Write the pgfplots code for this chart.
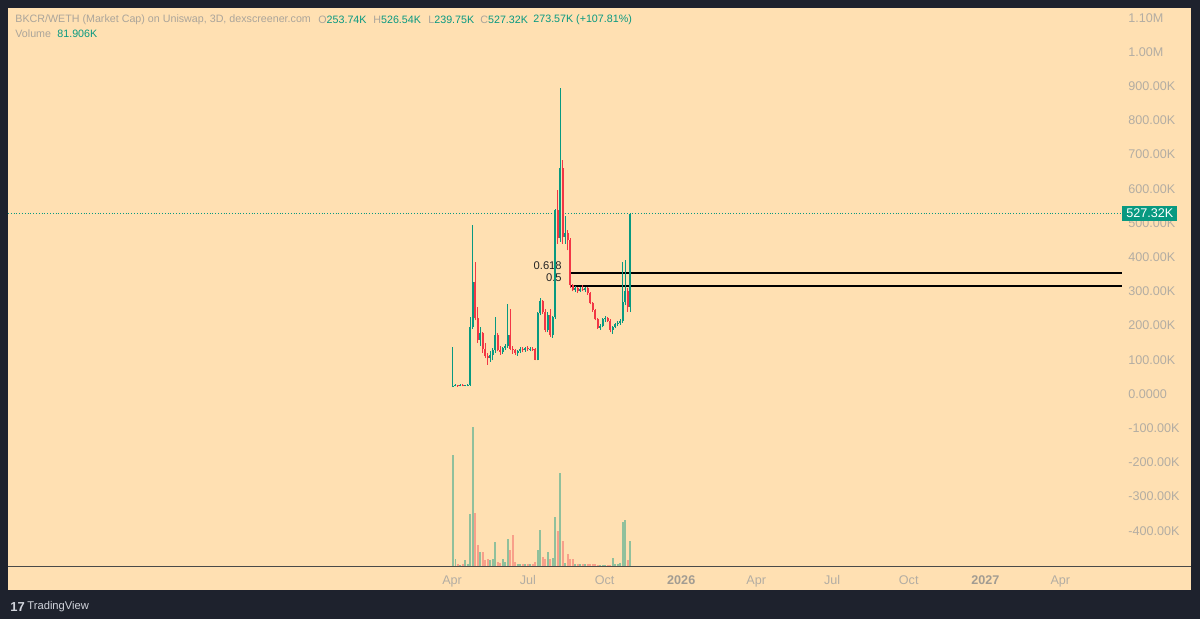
\documentclass[border=0pt]{standalone}
\usepackage{pgfplots}
\pgfplotsset{compat=1.18}
\usepackage{pgfplotstable}
\usepackage{fontspec}
\setmainfont{Liberation Sans}
\definecolor{bgdark}{HTML}{1E222D}
\definecolor{peach}{HTML}{FFE0B2}
\definecolor{tvgreen}{HTML}{089981}
\definecolor{tvred}{HTML}{F23645}
\definecolor{lblgray}{HTML}{B3ADA3}
\definecolor{lbldark}{HTML}{A29C92}
\definecolor{hdrgray}{HTML}{ABA59B}
\definecolor{volgreen}{HTML}{90C09C}
\definecolor{volred}{HTML}{F8A08A}
\definecolor{sepline}{HTML}{4A4A48}
\definecolor{tvwhite}{HTML}{D1D4DC}

% x = day of 2025 (3-day candles), prices in thousands, volume in thousands
\pgfplotstableread{
x o h l c v
91 22 138 20 24 370
94 24 28 22 25 24
100 23 28 22 26 4
106 23 27 22 25 19
109 25 30 23 27 8
112 27 225 24 197 174
115 197 494 190 328 462
124 158 195 140 177 46
136 104 125 95 115 19
139 115 135 98 130 24
142 130 225 120 172 80
151 124 138 118 135 24
154 135 145 128 140 13
157 140 262 135 172 91
169 120 130 112 126 6
172 126 136 120 132 8
178 128 138 124 134 8
184 131 136 125 133 7
193 100 240 98 236 52
196 236 280 230 272 118
205 188 240 180 232 46
211 172 228 165 225 28
214 225 540 220 538 163
220 455 894 445 660 309
226 460 520 440 470 10
238 305 315 298 310 8
244 300 312 298 308 8
250 304 312 298 309 8
268 194 205 188 200 3
271 200 222 195 218 3
274 218 228 210 222 3
283 188 200 175 196 27
286 196 208 192 204 8
289 204 212 198 208 8
292 208 218 202 212 10
295 212 385 208 268 146
298 268 392 260 300 154
304 253.74 526.54 239.75 527.32 81.906
}\uptable

\pgfplotstableread{
x o h l c v
97 25 27 21 23 6
103 26 28 22 23 5
118 328 387 215 221 176
121 221 255 150 158 69
127 177 182 120 133 46
130 133 150 105 110 19
133 110 120 85 104 24
145 172 178 125 130 13
148 130 140 115 124 11
160 172 250 128 133 52
163 133 140 118 128 104
166 128 132 115 120 13
175 132 138 122 128 5
181 134 140 126 131 6
187 133 138 126 131 8
190 131 135 98 100 13
199 272 276 235 240 30
202 240 248 180 188 24
208 232 250 168 172 24
217 538 596 440 455 115
223 660 684 440 460 82
229 470 480 420 450 41
232 450 455 310 318 24
235 318 322 300 305 24
241 310 312 296 300 8
247 308 318 300 304 6
253 309 312 290 294 7
256 294 298 262 265 8
259 265 270 240 245 6
262 245 250 215 218 6
265 218 222 190 194 4
277 222 226 210 214 2
280 214 218 180 188 3
301 300 310 240 254 19
}\dntable

\newcommand{\hdr}{\fontsize{5.35pt}{6pt}\selectfont}
\newcommand{\tck}{\fontsize{6.3pt}{7pt}\selectfont}

\begin{document}
\begin{tikzpicture}
% background, pixel coordinates (origin top-left), 1px = 0.5pt
\begin{scope}[x=0.5pt, y=-0.5pt, shift={(-4pt,283pt)}]
  \fill[bgdark] (0,0) rectangle (1200,619);
  \fill[peach] (8,8) rectangle (1191,590);
  \draw[sepline, line width=0.5pt] (8,566.5) -- (1191,566.5);
  % header
  \node[anchor=west, inner sep=0pt, text=hdrgray] at (15,20) {\hdr BKCR/WETH (Market Cap) on Uniswap, 3D, dexscreener.com};
  \node[anchor=west, inner sep=0pt] at (318,20) {\hdr\textcolor{hdrgray}{O}\textcolor{tvgreen}{253.74K}};
  \node[anchor=west, inner sep=0pt] at (373,20) {\hdr\textcolor{hdrgray}{H}\textcolor{tvgreen}{526.54K}};
  \node[anchor=west, inner sep=0pt] at (428,20) {\hdr\textcolor{hdrgray}{L}\textcolor{tvgreen}{239.75K}};
  \node[anchor=west, inner sep=0pt] at (480,20) {\hdr\textcolor{hdrgray}{C}\textcolor{tvgreen}{527.32K}};
  \node[anchor=west, inner sep=0pt, text=tvgreen] at (533,20) {\hdr 273.57K (+107.81\%)};
  \node[anchor=west, inner sep=0pt, text=hdrgray] at (15,34) {\hdr Volume};
  \node[anchor=west, inner sep=0pt, text=tvgreen] at (57,34) {\hdr 81.906K};
  % TradingView logo
  \node[anchor=west, inner sep=0pt, text=tvwhite] at (10,607) {\fontsize{6.5pt}{7pt}\selectfont\textbf{17}};
  \node[anchor=west, inner sep=0pt, text=tvwhite] at (27,607) {\fontsize{5.6pt}{7pt}\selectfont TradingView};
\end{scope}

% price pane
\begin{axis}[
  at={(0,0)}, anchor=south west, scale only axis,
  width=557pt, height=279pt,
  xmin=-443, xmax=894, ymin=-502.9, ymax=1128.7,
  axis line style={draw=none},
  major tick length=0pt, tick style={draw=none},
  xtick={90,181,273,365,455,546,638,730,820},
  xticklabels={Apr,Jul,Oct,\textcolor{lbldark}{\textbf{2026}},Apr,Jul,Oct,\textcolor{lbldark}{\textbf{2027}},Apr},
  ytick={-400,-300,-200,-100,0,100,200,300,400,500,600,700,800,900,1000,1100},
  yticklabels={-400.00K,-300.00K,-200.00K,-100.00K,0.0000,100.00K,200.00K,300.00K,400.00K,500.00K,600.00K,700.00K,800.00K,900.00K,1.00M,1.10M},
  yticklabel pos=right,
  yticklabel style={anchor=west, inner sep=0pt, xshift=3pt, font=\tck, text=lblgray},
  xticklabel style={anchor=north, inner sep=0pt, yshift=-4.5pt, font=\tck, text=lblgray},
  clip=false,
]
% current price line
\draw[tvgreen, line width=0.4pt, densely dotted] (axis cs:-443,527.32) -- (axis cs:894,527.32);
% fib levels
\draw[black, line width=0.9pt] (axis cs:231.6,353.8) -- (axis cs:894,353.8);
\draw[black, line width=0.9pt] (axis cs:231.6,315.8) -- (axis cs:894,315.8);
\node[anchor=east, inner sep=0pt, text=black!85] at (axis cs:222,374) {\fontsize{5.6pt}{6pt}\selectfont 0.618};
\node[anchor=east, inner sep=0pt, text=black!85] at (axis cs:222,339) {\fontsize{5.6pt}{6pt}\selectfont 0.5};
% wicks
\addplot[tvgreen, line width=0.45pt, mark=none, quiver={u=0, v=\thisrow{h}-\thisrow{l}}] table[x=x, y=l] {\uptable};
\addplot[tvred, line width=0.45pt, mark=none, quiver={u=0, v=\thisrow{h}-\thisrow{l}}] table[x=x, y=l] {\dntable};
% bodies
\addplot[tvgreen, line width=0.95pt, mark=none, quiver={u=0, v=\thisrow{c}-\thisrow{o}}] table[x=x, y=o] {\uptable};
\addplot[tvred, line width=0.95pt, mark=none, quiver={u=0, v=\thisrow{o}-\thisrow{c}}] table[x=x, y=c] {\dntable};
% price label box
\node[fill=tvgreen, text=white, inner xsep=2pt, inner ysep=1.6pt, anchor=west, font=\tck] at (axis cs:894,527.32) {527.32K};
\end{axis}

% volume overlay
\begin{axis}[
  at={(0,0)}, anchor=south west, scale only axis,
  width=557pt, height=279pt,
  xmin=-443, xmax=894, ymin=0, ymax=1853,
  hide axis,
]
\addplot[volgreen, ycomb, line width=0.95pt, mark=none] table[x=x, y=v] {\uptable};
\addplot[volred, ycomb, line width=0.95pt, mark=none] table[x=x, y=v] {\dntable};
\end{axis}
\end{tikzpicture}
\end{document}
